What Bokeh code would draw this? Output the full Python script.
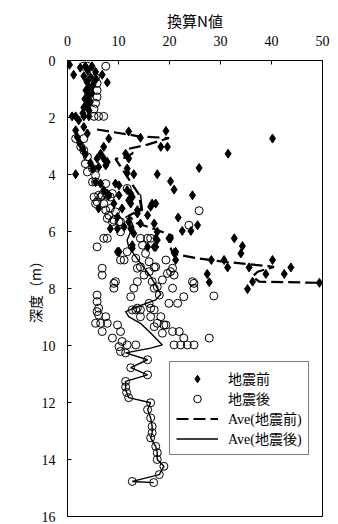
import numpy as np
from bokeh.plotting import figure
from bokeh.models import Range1d, FixedTicker, Legend, LegendItem
from bokeh.embed import file_html
from bokeh.resources import INLINE

# ---- data: 地震前 (before) points: N value, depth (m)
before_n = [0.4, 1.2, 2.5, 3.5, 4.8, 6.8, 7.8, 5.5, 4.0, 3.2, 4.5, 5.6, 3.8, 5.0, 4.2, 3.6, 4.8, 4.0, 3.4, 4.5, 3.8, 3.2, 4.2, 3.0,
            0.9, 1.6, 2.2, 3.2, 4.2,
            1.6, 1.9, 3.2, 3.9, 2.4, 3.0, 3.5, 12.0, 14.3, 19.3, 18.3, 19.6, 8.1, 40.2, 7.1, 31.5, 12.0, 11.7, 7.8, 5.8,
            6.5, 7.1, 7.5, 6.1, 11.4, 13.0, 11.7, 17.6, 25.8, 1.6, 4.5, 5.0,
            20.2, 20.9, 24.5, 10.1, 11.7, 12.7, 12.4, 10.7, 13.7, 16.3, 15.7, 6.5, 7.1, 8.1, 9.1, 9.8, 12.0, 11.1, 8.4,
            5.5, 9.4, 12.4, 7.8, 10.1, 17.3, 16.6, 13.7, 14.3, 12.4, 17.0, 13.0, 17.6, 19.9, 9.8, 12.7, 15.7, 17.3, 6.1,
            9.8, 21.2, 21.2, 12.0, 10.1, 12.7, 17.3, 17.0, 17.6,
            21.7, 25.5, 22.5, 24.2, 32.7, 34.3, 34.0, 20.2, 20.9, 28.2, 30.7, 31.4, 35.6, 40.2, 43.8, 38.9, 42.5, 27.4,
            27.8, 36.3, 35.3, 49.4]
before_depth = [0.15, 0.5, 0.25, 0.2, 0.2, 0.5, 0.77, 0.4, 0.35, 0.55, 0.6, 0.65, 0.75, 0.85, 0.95, 1.05, 1.15, 1.25, 1.35, 1.45, 1.55, 1.65, 1.75, 1.85,
                1.96, 1.96, 2.1, 1.96, 1.96,
                2.45, 2.68, 2.33, 2.56, 2.9, 3.1, 3.3, 2.49, 2.71, 2.47, 3.03, 3.03, 2.74, 2.74, 3.03, 3.27, 3.44, 3.79, 3.56, 3.44,
                3.27, 3.44, 3.68, 3.74, 3.27, 3.99, 3.95, 3.99, 3.77, 3.99, 3.6, 3.8,
                4.24, 4.53, 4.73, 4.38, 4.55, 4.79, 5.02, 5.19, 5.25, 5.13, 5.43, 4.32, 4.55, 4.73, 5.02, 5.49, 5.66, 5.84, 5.9,
                4.26, 4.32, 4.67, 4.67, 4.73, 5.02, 5.02, 5.37, 5.72, 5.9, 5.72, 6.07, 6.3, 6.24, 6.71, 6.59, 6.54, 6.54, 5.19,
                5.9, 7.0, 6.71, 4.9, 6.71, 6.48, 6.24, 6.54, 6.01,
                5.51, 5.78, 5.98, 5.98, 6.24, 6.51, 6.77, 6.24, 6.75, 7.0, 7.0, 7.26, 7.26, 7.0, 7.26, 7.49, 7.49, 7.49,
                7.78, 7.76, 8.02, 7.8]

# ---- data: 地震後 (after) points
after_n = [3.1, 3.9, 7.5, 3.9, 4.6, 5.5, 5.8, 5.8, 5.8, 5.5, 5.2, 5.2, 6.1, 7.1,
           1.6, 3.2, 2.6, 3.2, 3.9, 4.9, 5.5, 3.5, 3.9,
           5.5, 7.5, 6.1, 6.8, 7.8, 8.8, 11.7, 4.9, 5.2, 5.8, 7.1, 8.4, 9.4, 7.8, 9.1, 10.4, 5.5, 6.5, 8.4, 7.5, 8.1,
           8.8, 10.1, 10.4, 7.1, 7.8, 5.8, 11.7, 10.4, 11.1, 13.7, 15.0, 17.0, 16.0, 14.7, 15.7, 14.3, 15.3, 17.3,
           19.3, 19.6, 20.9, 6.8, 6.8, 9.4, 9.1, 13.0, 13.7, 16.6, 17.0, 18.0, 20.6, 22.8, 24.8, 19.9, 21.6,
           5.8, 5.8, 6.1, 6.1, 7.5, 6.5, 9.8, 13.4, 14.3, 14.3, 16.3, 16.3, 17.6, 18.9,
           25.8, 23.8, 20.6, 24.5, 24.8, 28.7, 18.3, 16.3, 20.2, 13.4, 14.3, 16.0, 18.6, 17.6, 12.4, 16.0, 17.0, 12.7,
           13.7, 9.1,
           6.8, 10.4, 8.8, 10.7, 10.1, 11.7, 13.4, 10.4, 17.0, 18.6, 19.3, 20.6, 20.9, 22.2, 23.5, 24.8, 22.8, 21.9,
           27.8, 5.8, 5.5, 7.8, 11.4,
           15.7, 12.4, 15.7, 11.4, 11.4, 11.6, 12.0, 16.3, 15.7, 16.3, 16.6, 16.6, 16.3, 17.3, 17.6, 17.6, 18.9, 18.0,
           12.7, 16.9]
after_depth = [0.2, 0.2, 0.2, 0.52, 0.45, 0.6, 0.8, 1.05, 1.28, 1.5, 1.7, 1.96, 1.96, 1.96,
               2.74, 2.74, 3.03, 3.15, 3.38, 3.79, 4.03, 3.62, 3.91,
               4.26, 4.32, 4.73, 4.73, 4.73, 4.67, 4.49, 4.26, 4.79, 4.96, 5.02, 5.19, 5.31, 5.54, 5.6, 5.66, 5.02, 4.79, 4.79, 5.25, 5.43,
               5.66, 5.66, 6.01, 6.24, 6.24, 6.54, 6.71, 7.0, 7.0, 7.29, 7.53, 7.26, 7.06, 6.48, 6.24, 6.24, 6.77, 7.24,
               7.0, 7.47, 7.53, 7.29, 7.53, 7.76, 7.99, 7.99, 7.76, 7.76, 7.99, 8.23, 7.99, 8.29, 7.82, 8.52, 8.52,
               8.23, 8.46, 8.69, 8.93, 8.99, 9.22, 9.28, 8.75, 8.75, 8.99, 8.99, 8.69, 9.22, 9.28,
               5.27, 5.78, 7.29, 7.76, 7.99, 8.26, 8.99, 6.24, 7.41, 6.94, 7.24, 7.41, 7.7, 7.94, 8.29, 8.52, 8.75, 8.75,
               8.69, 7.82,
               9.51, 9.51, 9.74, 9.86, 10.04, 9.98, 9.98, 10.21, 9.34, 9.57, 9.28, 9.51, 9.98, 9.98, 9.98, 9.98, 9.74, 9.51,
               9.74, 8.81, 9.22, 9.22, 10.26,
               10.5, 10.78, 11.03, 11.26, 11.45, 11.65, 11.83, 12.01, 12.25, 12.54, 12.84, 13.06, 13.24, 13.54, 13.76, 14.0, 14.24, 14.53,
               14.77, 14.81]

# ---- data: average lines
ave_before_n = [5.8, 14.0, 19.9, 15.7, 13.7, 12.0, 12.8, 11.5, 9.4, 14.0, 14.5, 12.0, 13.5, 17.6, 20.6, 20.0, 20.6,
                25.1, 30.6, 37.3, 40.5, 37.3, 36.3, 37.6, 49.4]
ave_before_depth = [2.42, 2.66, 2.72, 2.95, 3.03, 3.1, 3.25, 3.4, 3.45, 4.7, 5.2, 5.45, 5.7, 5.95, 6.15, 6.45, 6.77,
                    6.93, 7.06, 7.18, 7.24, 7.41, 7.58, 7.76, 7.8]
ave_after_n = [14.3, 14.7, 11.4, 12.4, 13.0, 12.4, 11.7, 12.0, 14.3, 16.3, 18.3, 17.3, 13.7, 11.4, 12.0, 14.3, 16.3,
               18.6, 16.3, 11.4, 15.7, 12.4, 15.7, 11.4, 11.4, 12.0, 16.3, 15.7, 16.3, 16.6, 16.6, 16.3, 17.3, 17.6,
               17.6, 18.9, 18.0, 12.7, 16.9]
ave_after_depth = [4.7, 5.25, 5.49, 5.62, 5.85, 6.0, 6.3, 6.55, 7.1, 7.58, 8.2, 8.4, 8.64, 8.81, 8.99, 9.22, 9.56,
                   9.98, 10.09, 10.26, 10.5, 10.78, 11.03, 11.26, 11.55, 11.83, 12.01, 12.25, 12.54, 12.84, 13.06, 13.24,
                   13.54, 13.76, 14.0, 14.24, 14.53, 14.77, 14.81]

x_ticks = [0, 10, 20, 30, 40, 50]
y_ticks = [0, 2, 4, 6, 8, 10, 12, 14, 16]

SERIF = "Liberation Serif"
MIX = "Liberation Serif, Noto Sans CJK JP"
CJK = "Noto Sans CJK JP"

p = figure(width=338, height=524, output_backend="svg", toolbar_location=None,
           x_range=Range1d(0, 50), y_range=Range1d(16, 0),
           x_axis_location="above",
           min_border_left=67, min_border_right=16, min_border_top=60, min_border_bottom=8)
p.xgrid.visible = False
p.ygrid.visible = False
p.outline_line_color = "black"
p.outline_line_width = 1
p.background_fill_color = "white"
p.border_fill_color = "white"

xa = p.xaxis[0]
xa.ticker = FixedTicker(ticks=x_ticks)
xa.major_tick_in = 4
xa.major_tick_out = 0
xa.minor_tick_line_color = None
xa.major_label_text_font = SERIF
xa.major_label_text_font_size = "14px"
xa.major_label_text_color = "black"
xa.major_label_standoff = 15
xa.axis_label = "換算N値"
xa.axis_label_text_font = CJK
xa.axis_label_text_font_size = "15px"
xa.axis_label_text_font_style = "normal"
xa.axis_label_text_color = "black"
xa.axis_label_standoff = 2
xa.axis_line_color = "black"
xa.major_tick_line_color = "black"

ya = p.yaxis[0]
ya.ticker = FixedTicker(ticks=y_ticks)
ya.major_tick_in = 4
ya.major_tick_out = 0
ya.minor_tick_line_color = None
ya.major_label_text_font = SERIF
ya.major_label_text_font_size = "14px"
ya.major_label_text_color = "black"
ya.major_label_standoff = 12
ya.axis_label = "深度（m）"
ya.axis_label_text_font = CJK
ya.axis_label_text_font_size = "14px"
ya.axis_label_text_font_style = "normal"
ya.axis_label_text_color = "black"
ya.axis_label_standoff = -6
ya.axis_line_color = "black"
ya.major_tick_line_color = "black"

r_before = p.scatter(before_n, before_depth, marker="diamond", size=9,
                     fill_color="black", line_color="black", line_width=1)
r_after = p.scatter(after_n, after_depth, marker="circle", size=8,
                    fill_color=None, line_color="black", line_width=1)
r_ave_b = p.line(ave_before_n, ave_before_depth, line_color="black", line_width=2.2, line_dash="12 5")
r_ave_a = p.line(ave_after_n, ave_after_depth, line_color="black", line_width=1.4)

legend = Legend(items=[
    LegendItem(label="地震前", renderers=[r_before]),
    LegendItem(label="地震後", renderers=[r_after]),
    LegendItem(label="Ave(地震前)", renderers=[r_ave_b]),
    LegendItem(label="Ave(地震後)", renderers=[r_ave_a]),
], location=(102, 61))
legend.border_line_color = "black"
legend.border_line_width = 1
legend.background_fill_color = "white"
legend.background_fill_alpha = 1
legend.label_text_font = MIX
legend.label_text_font_size = "14px"
legend.label_text_color = "black"
legend.glyph_width = 42
legend.glyph_height = 19
legend.label_height = 19
legend.label_standoff = 10
legend.padding = 6
legend.spacing = 0
legend.margin = 0
p.add_layout(legend, "center")

open("out.html", "w").write(file_html(p, INLINE))
